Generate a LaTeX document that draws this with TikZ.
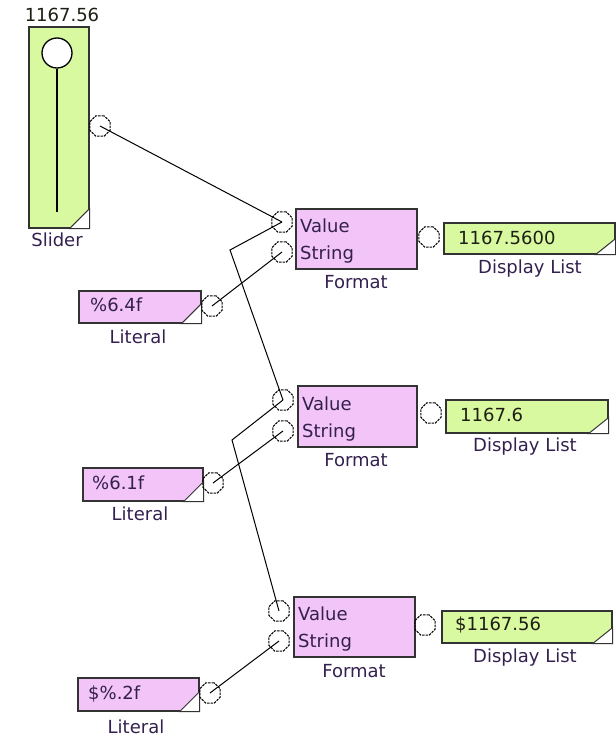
\documentclass[tikz,border=0pt]{standalone}
\usepackage{fontspec}
\usetikzlibrary{shapes.geometric}
\setmainfont{DejaVu Sans}
\definecolor{lime}{HTML}{D8F9A0}
\definecolor{pinkbox}{HTML}{F2C4F8}
\definecolor{boxcol}{HTML}{333333}
\definecolor{lblcol}{HTML}{33204E}
\definecolor{valcol}{HTML}{1E1E14}
\begin{document}
\begin{tikzpicture}[x=1pt,y=-1pt,
  box/.style={draw=boxcol, line width=1.6pt, inner sep=0, anchor=north west},
  gbox/.style={box, fill=lime},
  pbox/.style={box, fill=pinkbox},
  iopin/.style={regular polygon, regular polygon sides=8, draw=black, line width=1pt, dash pattern=on 2.5pt off 1pt, minimum size=22pt, inner sep=0},
  wire/.style={draw=black, line width=1pt},
  lbl/.style={font=\fontsize{18}{20}\selectfont, text=lblcol, inner sep=0},
  val/.style={font=\fontsize{18}{20}\selectfont, text=valcol, inner sep=0, anchor=west},
  ptxt/.style={font=\fontsize{18}{20}\selectfont, text=lblcol, inner sep=0, anchor=west},
  corner/.style={fill=white, draw=boxcol, line width=1pt}
]
\useasboundingbox (0,0) rectangle (615,738);

% ---------- Slider ----------
\node[gbox, minimum width=60pt, minimum height=201pt] (slider) at (28,26) {};
\filldraw[corner] ([xshift=-20pt]slider.south east) -- (slider.south east) -- ([yshift=20pt]slider.south east) -- cycle;
\node[circle, draw=black, fill=white, line width=1.3pt, minimum size=30pt, inner sep=0] (knob) at (57,53) {};
\coordinate (kend) at (57,212);
\draw[line width=1.5pt] (knob.south) -- (kend);
\node[val, anchor=center] (slval) at (62,15) {1167.56};
\node[lbl] (sllbl) at (57,240) {Slider};
\node[iopin] (sp) at (100,126) {};

% ---------- Format 1 ----------
\node[pbox, minimum width=121pt, minimum height=60pt] (f1) at (295,208) {};
\node[ptxt] (f1vt) at (300,226) {Value};
\node[ptxt] (f1st) at (300,255) {String};
\node[lbl] (f1l) at (356,282) {Format};
\node[iopin] (f1v) at (282,222) {};
\node[iopin] (f1s) at (282,252) {};
\node[iopin] (f1o) at (429,237) {};

% ---------- Display List 1 ----------
\node[gbox, minimum width=171pt, minimum height=31pt] (d1) at (443,222) {};
\filldraw[corner] ([xshift=-20pt]d1.south east) -- (d1.south east) -- ([yshift=16pt]d1.south east) -- cycle;
\node[val] (d1v) at (458,238) {1167.5600};
\node[lbl] (d1l) at (530,269) {Display List};

% ---------- Literal 1 ----------
\node[pbox, minimum width=122pt, minimum height=32pt] (l1) at (78,290) {};
\filldraw[corner] ([xshift=-20pt]l1.south east) -- (l1.south east) -- ([yshift=20pt]l1.south east) -- cycle;
\node[ptxt] (l1v) at (90,305) {\%6.4f};
\node[lbl] (l1l) at (138,337) {Literal};
\node[iopin] (l1p) at (212,306) {};

% ---------- Format 2 ----------
\node[pbox, minimum width=119pt, minimum height=61pt] (f2) at (297,385) {};
\node[ptxt] (f2vt) at (302,404) {Value};
\node[ptxt] (f2st) at (302,433) {String};
\node[lbl] (f2l) at (356,460) {Format};
\node[iopin] (f2v) at (283,400) {};
\node[iopin] (f2s) at (283,431) {};
\node[iopin] (f2o) at (431,413) {};

% ---------- Display List 2 ----------
\node[gbox, minimum width=162pt, minimum height=33pt] (d2) at (445,399) {};
\filldraw[corner] ([xshift=-20pt]d2.south east) -- (d2.south east) -- ([yshift=16pt]d2.south east) -- cycle;
\node[val] (d2v) at (460,415) {1167.6};
\node[lbl] (d2l) at (525,447) {Display List};

% ---------- Literal 2 ----------
\node[pbox, minimum width=120pt, minimum height=33pt] (l2) at (82,467) {};
\filldraw[corner] ([xshift=-20pt]l2.south east) -- (l2.south east) -- ([yshift=20pt]l2.south east) -- cycle;
\node[ptxt] (l2v) at (92,483) {\%6.1f};
\node[lbl] (l2l) at (140,514) {Literal};
\node[iopin] (l2p) at (213,483) {};

% ---------- Format 3 ----------
\node[pbox, minimum width=121pt, minimum height=60pt] (f3) at (293,596) {};
\node[ptxt] (f3vt) at (298,614) {Value};
\node[ptxt] (f3st) at (298,643) {String};
\node[lbl] (f3l) at (354,671) {Format};
\node[iopin] (f3v) at (279,611) {};
\node[iopin] (f3s) at (279,641) {};
\node[iopin] (f3o) at (425,625) {};

% ---------- Display List 3 ----------
\node[gbox, minimum width=170pt, minimum height=32pt] (d3) at (441,610) {};
\filldraw[corner] ([xshift=-20pt]d3.south east) -- (d3.south east) -- ([yshift=16pt]d3.south east) -- cycle;
\node[val] (d3v) at (455,625) {\$1167.56};
\node[lbl] (d3l) at (525,658) {Display List};

% ---------- Literal 3 ----------
\node[pbox, minimum width=121pt, minimum height=33pt] (l3) at (77,677) {};
\filldraw[corner] ([xshift=-20pt]l3.south east) -- (l3.south east) -- ([yshift=20pt]l3.south east) -- cycle;
\node[ptxt] (l3v) at (88,694) {\$\%.2f};
\node[lbl] (l3l) at (136,727) {Literal};
\node[iopin] (l3p) at (210,693) {};

% ---------- Connectors ----------
\coordinate (bend1) at (230,250);
\coordinate (bend2) at (232,440);
\draw[wire] (sp.center) -- (f1v.center);
\draw[wire] (l1p.center) -- (f1s.center);
\draw[wire] (f1v.center) -- (bend1) -- (f2v.center);
\draw[wire] (l2p.center) -- (f2s.center);
\draw[wire] (f2v.center) -- (bend2) -- (f3v.center);
\draw[wire] (l3p.center) -- (f3s.center);
\end{tikzpicture}
\end{document}
